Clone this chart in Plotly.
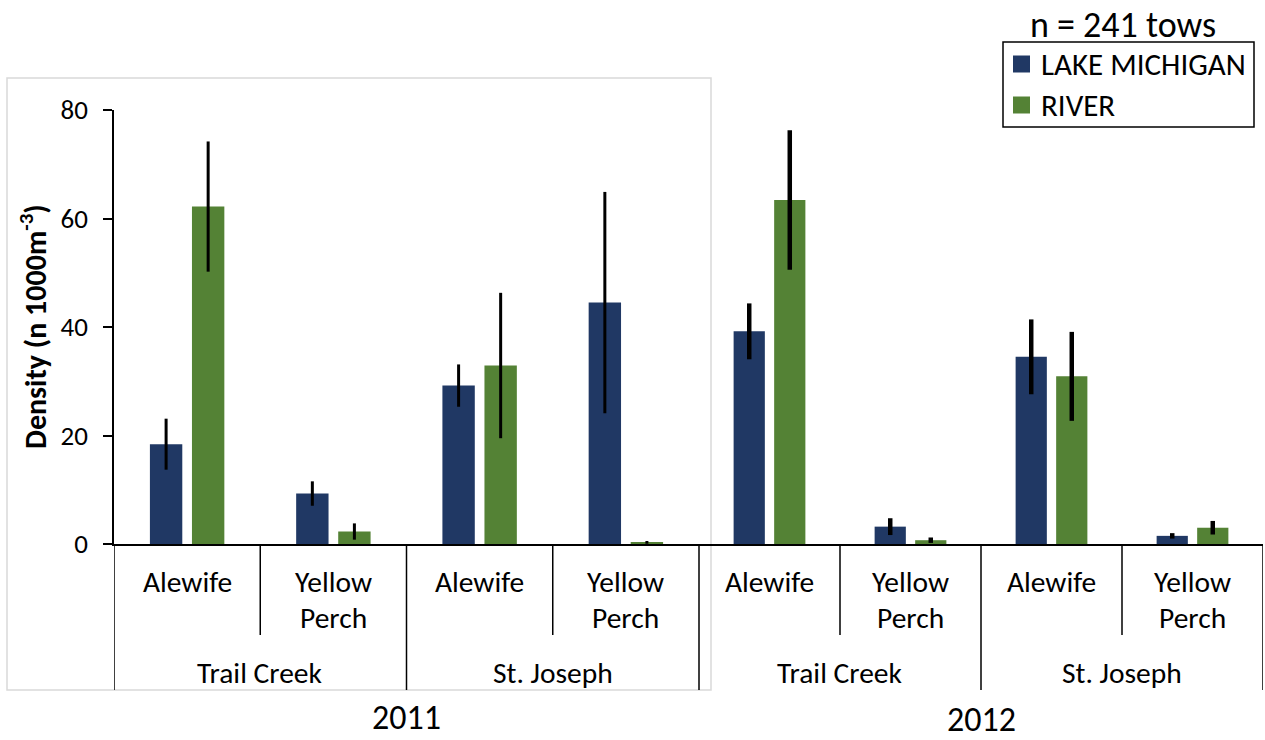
import plotly.graph_objects as go

# ---- data -------------------------------------------------------------
years = ["2011", "2012"]
sites = ["Trail Creek", "St. Joseph"]
species = ["Alewife", "Yellow<br>Perch"]
series_names = ["LAKE MICHIGAN", "RIVER"]
header = "n = 241 tows"
y_title = "Density (n 1000m<sup>-3</sup>)"
y_ticks = [0, 20, 40, 60, 80]

# density per (site, species): TC-Alewife, TC-Yellow Perch, SJ-Alewife, SJ-Yellow Perch
lake_2011 = [18.4, 9.3, 29.2, 44.5]
lake_2011_err = [4.7, 2.25, 3.9, 20.4]
river_2011 = [62.2, 2.3, 32.9, 0.3]
river_2011_err = [12.0, 1.5, 13.4, 0.25]

lake_2012 = [39.2, 3.2, 34.5, 1.5]
lake_2012_err = [5.15, 1.55, 6.9, 0.5]
river_2012 = [63.4, 0.7, 30.9, 3.0]
river_2012_err = [12.85, 0.5, 8.2, 1.25]

# ---- styling ----------------------------------------------------------
BLUE = "#203864"
GREEN = "#548235"
FONT = "Calibri, Carlito, Lato, sans-serif"
W, H = 1265, 740
ML, MR, MT, MB = 114, 2, 110, 196
PW, PH = W - ML - MR, H - MT - MB


def px_x(p):
    return (p - ML) / PW


def px_y(p):
    return (H - MB - p) / PH


n_cat = len(sites) * len(species)
cat_pos = list(range(n_cat))
split = px_x(699)

fig = go.Figure()

year_series = [
    ("x", [(lake_2011, lake_2011_err), (river_2011, river_2011_err)], 3),
    ("x2", [(lake_2012, lake_2012_err), (river_2012, river_2012_err)], 4.5),
]
for axis, pairs, thick in year_series:
    for (vals, errs), name, color in zip(pairs, series_names, [BLUE, GREEN]):
        fig.add_trace(go.Bar(
            x=cat_pos, y=vals, name=name, xaxis=axis, yaxis="y",
            marker=dict(color=color, line=dict(width=0)),
            error_y=dict(type="data", array=errs, color="black",
                         thickness=thick, width=0),
            showlegend=False,
        ))

axis_common = dict(range=[-0.5, n_cat - 0.5], showticklabels=False, ticks="",
                   showgrid=False, zeroline=False, showline=True,
                   linecolor="black", linewidth=1.5, fixedrange=True)

fig.update_layout(
    width=W, height=H,
    margin=dict(l=ML, r=MR, t=MT, b=MB),
    paper_bgcolor="white", plot_bgcolor="white",
    barmode="group", bargap=0.425, bargroupgap=0.23,
    font=dict(family=FONT, color="black"),
    xaxis=dict(domain=[0, split], anchor="y", **axis_common),
    xaxis2=dict(domain=[split, 1], anchor="y", **axis_common),
    yaxis=dict(range=[0, 80], tickvals=y_ticks, ticks="outside", ticklen=9,
               tickwidth=1.5, tickcolor="black", showline=True,
               linecolor="black", linewidth=1.5, showgrid=False,
               zeroline=False, tickfont=dict(size=27, family=FONT),
               ticklabelstandoff=10, anchor="x", fixedrange=True),
    showlegend=False,
)

shapes = []
annotations = []

# light frame round the 2011 panel
shapes.append(dict(type="rect", xref="paper", yref="paper",
                   x0=px_x(7), x1=px_x(711), y0=px_y(690), y1=px_y(78),
                   line=dict(color="#d9d9d9", width=1.5), layer="below"))

short_end = px_y(635)
long_end = px_y(690)
year_label_y = {"2011": 717, "2012": 719}
for axis, year in zip(["x", "x2"], years):
    # category dividers
    for b in range(n_cat + 1):
        end = long_end if b % len(species) == 0 else short_end
        shapes.append(dict(type="line", xref=axis, yref="paper",
                           x0=b - 0.5, x1=b - 0.5, y0=0, y1=end,
                           line=dict(color="black", width=1.5)))
    # species labels
    for i in range(n_cat):
        lines = species[i % len(species)].split("<br>")
        for k, txt in enumerate(lines):
            annotations.append(dict(xref=axis, yref="paper", x=i,
                                    y=px_y(582 + 36 * k), text=txt,
                                    showarrow=False, xanchor="center",
                                    yanchor="middle",
                                    font=dict(size=29.5, family=FONT)))
    # site labels
    for s, site in enumerate(sites):
        annotations.append(dict(xref=axis, yref="paper",
                                x=s * len(species) + (len(species) - 1) / 2,
                                y=px_y(673), text=site, showarrow=False,
                                xanchor="center", yanchor="middle",
                                font=dict(size=29.5, family=FONT)))
    # year label
    annotations.append(dict(xref=axis + " domain", yref="paper", x=0.5,
                            y=px_y(year_label_y[year]), text=year,
                            showarrow=False, xanchor="center", yanchor="middle",
                            font=dict(size=34, family=FONT)))

# y axis title
annotations.append(dict(xref="paper", yref="paper", x=px_x(33), y=px_y(327),
                        text="<b>" + y_title + "</b>", textangle=-90,
                        showarrow=False, xanchor="center", yanchor="middle",
                        font=dict(size=30, family=FONT)))

# header above legend
annotations.append(dict(xref="paper", yref="paper", x=px_x(1123), y=px_y(25),
                        text=header, showarrow=False, xanchor="center",
                        yanchor="middle", font=dict(size=36, family=FONT)))

# legend box
shapes.append(dict(type="rect", xref="paper", yref="paper",
                   x0=px_x(1003), x1=px_x(1254), y0=px_y(127), y1=px_y(42),
                   line=dict(color="black", width=1.5)))
for k, (name, color) in enumerate(zip(series_names, [BLUE, GREEN])):
    cy = 64 + 41 * k
    shapes.append(dict(type="rect", xref="paper", yref="paper",
                       x0=px_x(1013), x1=px_x(1030), y0=px_y(cy + 8.5),
                       y1=px_y(cy - 8.5), fillcolor=color,
                       line=dict(width=0)))
    annotations.append(dict(xref="paper", yref="paper", x=px_x(1039),
                            y=px_y(cy), text=name, showarrow=False,
                            xanchor="left", yanchor="middle",
                            font=dict(size=31, family=FONT)))

fig.update_layout(shapes=shapes, annotations=annotations)

fig.write_html("out.html")
